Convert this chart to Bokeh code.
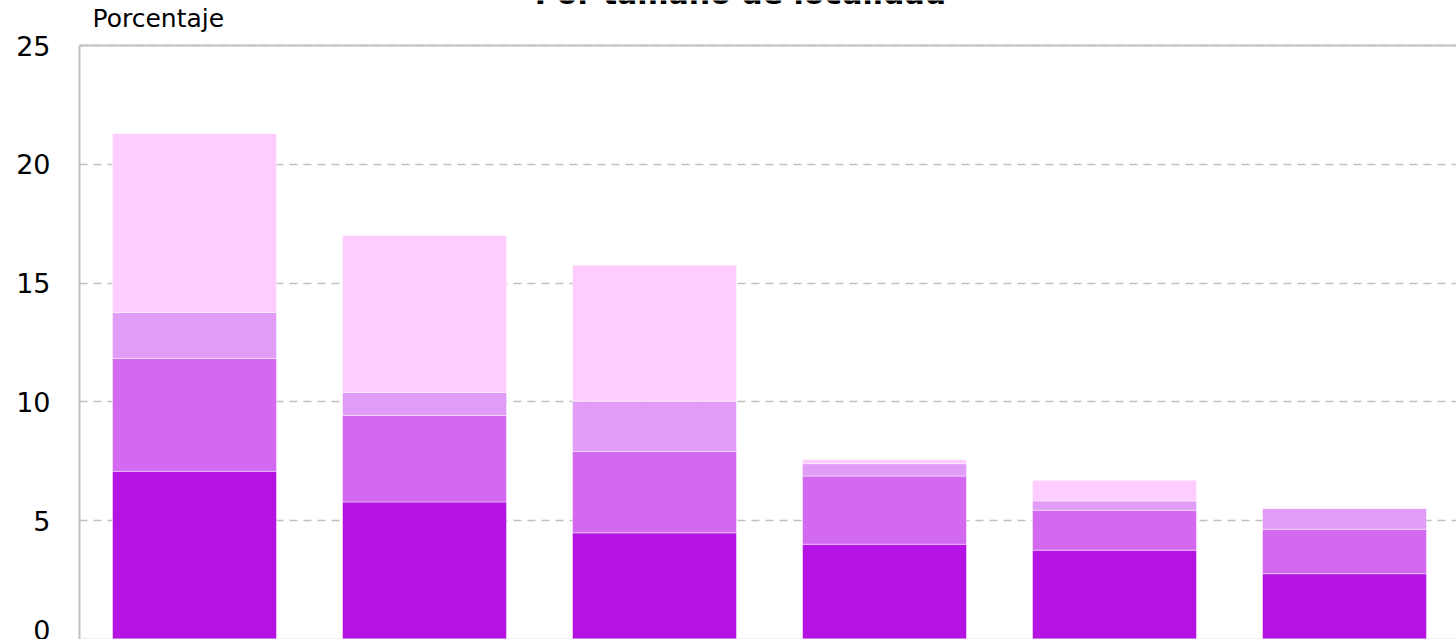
from bokeh.plotting import figure
from bokeh.models import Range1d, Label, FixedTicker, ColumnDataSource, Span
from bokeh.embed import file_html
from bokeh.resources import INLINE

# ---- data ----
categories = ["Menos de 2 500", "2 500 a 14 999", "15 000 a 49 999",
              "50 000 a 99 999", "100 000 a 499 999", "500 000 y más"]
series_names = ["Serie 1", "Serie 2", "Serie 3", "Serie 4"]
serie_1 = [7.08, 5.79, 4.49, 4.01, 3.76, 2.77]
serie_2 = [4.75, 3.64, 3.43, 2.87, 1.68, 1.87]
serie_3 = [1.93, 0.97, 2.11, 0.52, 0.39, 0.87]
serie_4 = [7.53, 6.60, 5.72, 0.17, 0.87, 0.02]
colors = ["#B513E3", "#D368F1", "#E09CF7", "#FECCFE"]
y_ticks = [0, 5, 10, 15, 20, 25]
y_max = 25
title_text = "Por tamaño de localidad"
y_label = "Porcentaje"

W, H = 1456, 639
LEFT, TOP = 79, 45
frame_w = W - LEFT
cat_px = 230.0
px_per_unit = (H - TOP) / float(y_max)

x_pos = [i + 0.5 for i in range(len(categories))]
src = ColumnDataSource(dict(x=x_pos, cat=categories, s1=serie_1, s2=serie_2,
                            s3=serie_3, s4=serie_4))

p = figure(width=W, height=H, output_backend="svg", toolbar_location=None,
           x_range=Range1d(0, frame_w / cat_px),
           y_range=Range1d(0, y_max + TOP / px_per_unit),
           x_axis_location=None, min_border_left=LEFT, min_border_top=0,
           min_border_bottom=0, min_border_right=0)

p.vbar_stack(["s1", "s2", "s3", "s4"], x="x", width=164 / cat_px, source=src,
             color=colors, line_color="white", line_alpha=0.45, line_width=1)

p.yaxis.ticker = FixedTicker(ticks=y_ticks)
p.yaxis.bounds = (0, y_max)
p.yaxis.major_tick_line_color = None
p.yaxis.minor_tick_line_color = None
p.yaxis.major_tick_out = 0
p.yaxis.major_label_standoff = 29
p.yaxis.major_label_text_font = "DejaVu Sans"
p.yaxis.major_label_text_font_size = "27px"
p.yaxis.major_label_text_color = "#000000"
p.yaxis.axis_line_color = "#c0c0c0"
p.yaxis.axis_line_width = 2

p.xgrid.grid_line_color = None
p.ygrid.grid_line_color = "#c0c0c0"
p.ygrid.grid_line_dash = "8 6"
p.ygrid.grid_line_width = 1.5

p.outline_line_color = None
p.background_fill_color = "white"
p.border_fill_color = "white"

p.add_layout(Span(location=y_max, dimension="width", line_color="#c0c0c0",
                  line_width=2))
p.add_layout(Span(location=0, dimension="width", line_color="#e6e6e6",
                  line_width=2))

p.add_layout(Label(x=13 / cat_px, y=y_max + 27 / px_per_unit, text=y_label,
                   text_font="DejaVu Sans", text_font_size="25px",
                   text_color="#000000", text_baseline="alphabetic"))
p.add_layout(Label(x=(740 - LEFT) / cat_px, y=y_max + 52 / px_per_unit,
                   text=title_text, text_font="DejaVu Sans",
                   text_font_style="bold", text_font_size="30px",
                   text_align="center", text_color="#000000",
                   text_baseline="alphabetic"))

open("out.html", "w").write(file_html(p, INLINE))
